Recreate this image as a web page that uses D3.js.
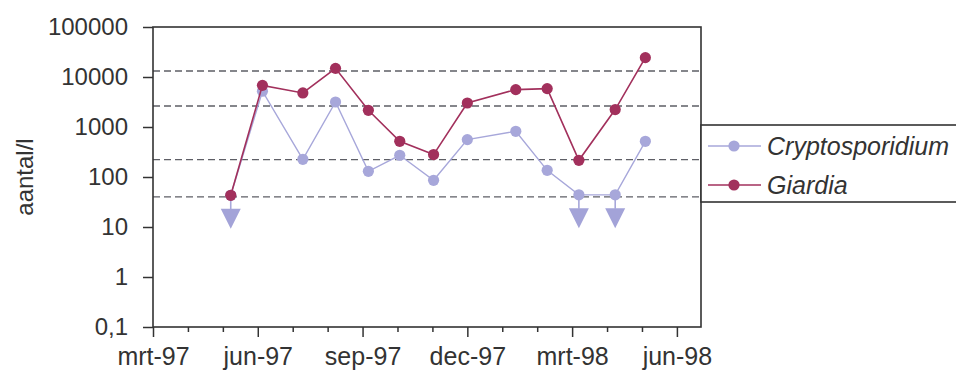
<!DOCTYPE html>
<html>
<head>
<meta charset="utf-8">
<script src="https://cdn.jsdelivr.net/npm/d3@7"></script>
<style>
  html, body { margin: 0; padding: 0; background: #ffffff; }
  svg { display: block; }
  text { font-family: "Liberation Sans", Arial, sans-serif; fill: #333; }
</style>
</head>
<body>
<svg id="chart" width="956" height="377"></svg>
<script>
// Sampling dates and measured concentrations (aantal per liter)
const sampleDates = ["1997-05-08", "1997-06-05", "1997-07-10", "1997-08-08", "1997-09-06", "1997-10-03",
                     "1997-11-02", "1997-12-01", "1998-01-13", "1998-02-09", "1998-03-07", "1998-04-08", "1998-05-04"];
const cryptosporidium = [43, 5200, 226, 3160, 130, 272, 86, 560, 820, 136, 44, 44, 518];
const giardia = [43, 6800, 4800, 14900, 2160, 518, 281, 3020, 5600, 5860, 216, 2230, 24400];
// Samples where Cryptosporidium stayed below the detection limit
const cryptoBelowLimit = [true, false, false, false, false, false, false, false, false, false, true, true, false];
// Horizontal reference levels (dashed)
const referenceLevels = [13200, 2630, 223, 40];
// Axis ticks
const yTicks = [0.1, 1, 10, 100, 1000, 10000, 100000];
const monthNames = ["jan", "feb", "mrt", "apr", "mei", "jun", "jul", "aug", "sep", "okt", "nov", "dec"];
const seriesNames = ["Cryptosporidium", "Giardia"];
const seriesColors = { Cryptosporidium: "#a7a7da", Giardia: "#a2305c" };

const svg = d3.select("#chart");
const plot = { left: 153, top: 27, width: 548, height: 300 };

// Months are spaced evenly along the axis; a date maps to a fractional month count since mrt-97
const startYear = 1997, startMonth = 2;
const parse = d3.timeParse("%Y-%m-%d");
function monthIndex(d) {
  const dim = new Date(d.getFullYear(), d.getMonth() + 1, 0).getDate();
  return (d.getFullYear() - startYear) * 12 + d.getMonth() - startMonth + (d.getDate() - 1) / dim;
}
function monthLabel(i) {
  const m = startMonth + i;
  const y = startYear + Math.floor(m / 12);
  return monthNames[m % 12] + "-" + String(y).slice(2);
}

const x = d3.scaleLinear().domain([0, 15.69]).range([plot.left, plot.left + plot.width]);
const y = d3.scaleLog().domain([0.1, 100000]).range([plot.top + plot.height, plot.top]);

const nl = d3.formatLocale({ decimal: ",", thousands: ".", grouping: [3], currency: ["€", ""] });
const yFormat = v => v < 1 ? nl.format(".1f")(v) : nl.format("d")(v);

const rows = sampleDates.map((s, i) => ({
  t: monthIndex(parse(s)),
  Cryptosporidium: cryptosporidium[i],
  Giardia: giardia[i],
  below: cryptoBelowLimit[i]
}));

// Reference levels
svg.append("g").selectAll("line").data(referenceLevels).join("line")
  .attr("x1", plot.left).attr("x2", plot.left + plot.width)
  .attr("y1", d => y(d)).attr("y2", d => y(d))
  .attr("stroke", "#5e5f66").attr("stroke-width", 1.4).attr("stroke-dasharray", "7,4");

// Plot frame
svg.append("rect")
  .attr("x", plot.left).attr("y", plot.top).attr("width", plot.width).attr("height", plot.height)
  .attr("fill", "none").attr("stroke", "#333").attr("stroke-width", 1.6);

// X axis: monthly minor ticks, quarterly major ticks with labels
const xAxisG = svg.append("g").attr("transform", `translate(0,${plot.top + plot.height})`);
xAxisG.call(d3.axisBottom(x).tickValues(d3.range(0, 16).filter(i => i % 3 !== 0)).tickSize(5).tickFormat(""));
const xMajor = svg.append("g").attr("transform", `translate(0,${plot.top + plot.height})`)
  .call(d3.axisBottom(x).tickValues(d3.range(0, 16, 3)).tickSize(10).tickPadding(10).tickFormat(monthLabel));
[xAxisG, xMajor].forEach(g => {
  g.select(".domain").remove();
  g.selectAll(".tick line").attr("stroke", "#333").attr("stroke-width", 1.5);
});
xMajor.selectAll(".tick text").attr("font-size", 25).attr("fill", "#333")
  .attr("font-family", "Liberation Sans, Arial, sans-serif");

// Y axis
const yAxisG = svg.append("g").attr("transform", `translate(${plot.left},0)`)
  .call(d3.axisLeft(y).tickValues(yTicks).tickSize(10).tickPadding(15).tickFormat(yFormat));
yAxisG.select(".domain").remove();
yAxisG.selectAll(".tick line").attr("stroke", "#333").attr("stroke-width", 1.5);
yAxisG.selectAll(".tick text").attr("font-size", 24).attr("fill", "#333")
  .attr("font-family", "Liberation Sans, Arial, sans-serif");

// Y axis title
svg.append("text")
  .attr("transform", `translate(33,${plot.top + plot.height / 2}) rotate(-90)`)
  .attr("text-anchor", "middle").attr("font-size", 24).text("aantal/l");

// Series
const line = key => d3.line().x(d => x(d.t)).y(d => y(d[key]));
const markR = 5.6;

// Cryptosporidium below detection limit: stem and downward triangle
const arrows = svg.append("g").selectAll("g").data(rows.filter(d => d.below)).join("g")
  .attr("transform", d => `translate(${x(d.t)},${y(d.Cryptosporidium)})`);
arrows.append("line").attr("x1", 0).attr("x2", 0).attr("y1", 0).attr("y2", 14)
  .attr("stroke", seriesColors.Cryptosporidium).attr("stroke-width", 1.6);
arrows.append("path").attr("d", "M-10,13.5 L10,13.5 L0,33.5 Z")
  .attr("fill", "#a3a3d8");

seriesNames.forEach(key => {
  const g = svg.append("g");
  g.append("path").datum(rows).attr("d", line(key))
    .attr("fill", "none").attr("stroke", seriesColors[key])
    .attr("stroke-width", key === "Giardia" ? 1.6 : 1.4);
  g.selectAll("circle").data(rows).join("circle")
    .attr("cx", d => x(d.t)).attr("cy", d => y(d[key])).attr("r", markR)
    .attr("fill", seriesColors[key]);
});

// Legend
const legend = { left: plot.left + plot.width, top: 125, bottom: 202 };
svg.append("rect")
  .attr("x", legend.left).attr("y", legend.top)
  .attr("width", 300).attr("height", legend.bottom - legend.top)
  .attr("fill", "#fff").attr("stroke", "#333").attr("stroke-width", 1.6);
const legendRows = [146, 185];
seriesNames.forEach((key, i) => {
  const ly = legendRows[i];
  const lg = svg.append("g");
  lg.append("line").attr("x1", legend.left + 7).attr("x2", legend.left + 60)
    .attr("y1", ly).attr("y2", ly).attr("stroke", seriesColors[key]).attr("stroke-width", 1.4);
  lg.append("circle").attr("cx", legend.left + 33).attr("cy", ly).attr("r", markR)
    .attr("fill", seriesColors[key]);
  lg.append("text").attr("x", legend.left + 66).attr("y", ly).attr("dy", "0.35em")
    .attr("font-size", 25).attr("font-style", "italic").text(key);
});
</script>
</body>
</html>
